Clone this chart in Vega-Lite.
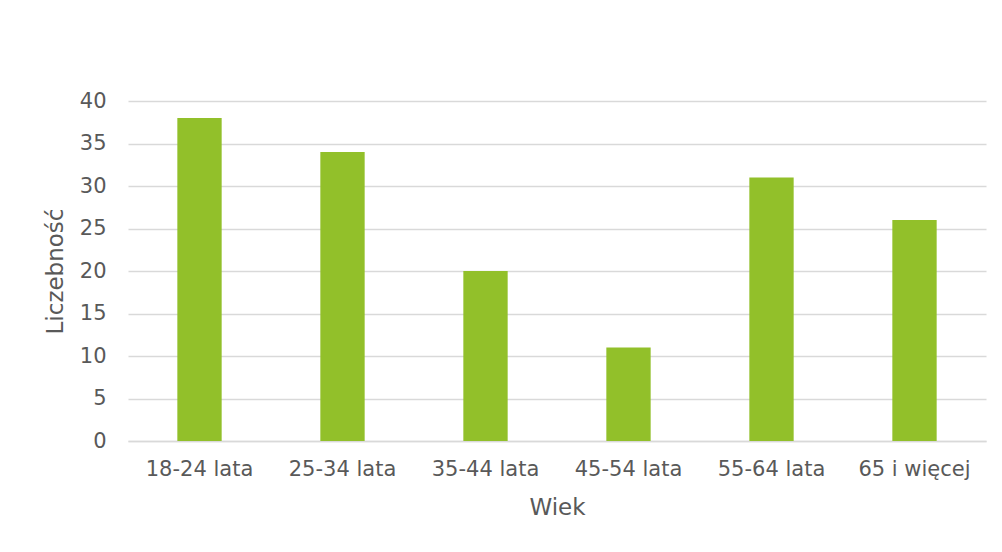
{
  "$schema": "https://vega.github.io/schema/vega-lite/v6.json",
  "width": 858,
  "height": 340,
  "autosize": {"type": "none"},
  "padding": {"left": 128, "top": 101, "right": 16, "bottom": 111},
  "background": "white",
  "config": {
    "view": {"stroke": null},
    "font": "DejaVu Sans",
    "axis": {
      "labelFont": "DejaVu Sans",
      "titleFont": "DejaVu Sans",
      "labelColor": "#595959",
      "titleColor": "#595959",
      "titleFontWeight": "normal",
      "labelFontSize": 21,
      "titleFontSize": 23,
      "ticks": false,
      "gridColor": "#d9d9d9",
      "gridWidth": 1.5
    }
  },
  "data": {
    "values": [
      {"wiek": "18-24 lata", "n": 38},
      {"wiek": "25-34 lata", "n": 34},
      {"wiek": "35-44 lata", "n": 20},
      {"wiek": "45-54 lata", "n": 11},
      {"wiek": "55-64 lata", "n": 31},
      {"wiek": "65 i więcej", "n": 26}
    ]
  },
  "mark": {"type": "bar", "color": "#92C02A"},
  "encoding": {
    "x": {
      "field": "wiek",
      "type": "nominal",
      "sort": null,
      "title": "Wiek",
      "scale": {"paddingInner": 0.69, "paddingOuter": 0.345},
      "axis": {
        "labelAngle": 0,
        "labelPadding": 17,
        "titlePadding": 17,
        "domainColor": "#d9d9d9",
        "domainWidth": 1.5,
        "grid": false
      }
    },
    "y": {
      "field": "n",
      "type": "quantitative",
      "title": "Liczebność",
      "scale": {"domain": [0, 40]},
      "axis": {
        "values": [0, 5, 10, 15, 20, 25, 30, 35, 40],
        "domain": false,
        "labelPadding": 22,
        "titlePadding": 12
      }
    }
  }
}
